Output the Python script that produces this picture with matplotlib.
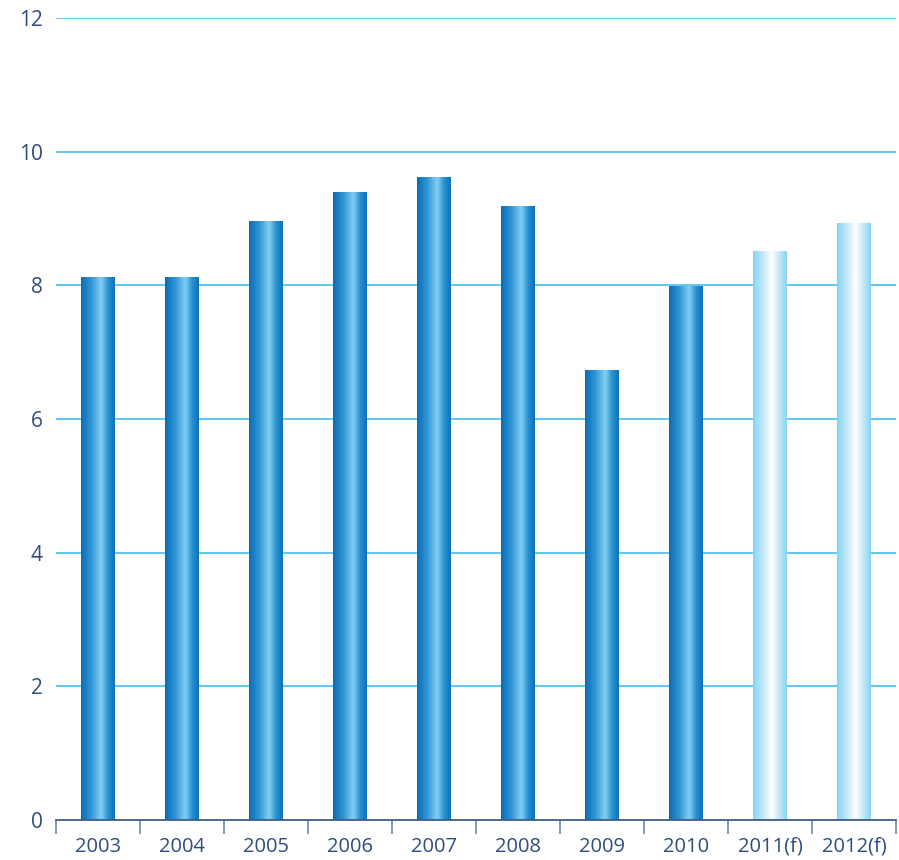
import numpy as np
import matplotlib
matplotlib.use("Agg")
import matplotlib.pyplot as plt
from matplotlib.colors import LinearSegmentedColormap

years = ["2003", "2004", "2005", "2006", "2007", "2008", "2009", "2010", "2011(f)", "2012(f)"]
values = [8.13, 8.13, 8.97, 9.39, 9.62, 9.18, 6.74, 7.99, 8.51, 8.93]
forecast = [False] * 8 + [True] * 2
yticks = [0, 2, 4, 6, 8, 10, 12]

plt.rcParams["font.family"] = ["Open Sans", "DejaVu Sans"]
text_c = "#2f4d7e"
grid_c = "#45bcec"

actual_cmap = LinearSegmentedColormap.from_list(
    "act", [(0, "#0a6cb6"), (0.3, "#2f95d4"), (0.6, "#82cff3"), (0.8, "#2a90d0"), (1, "#0a72bc")])
fcst_cmap = LinearSegmentedColormap.from_list(
    "fc", [(0, "#86d4f4"), (0.3, "#c4e9f9"), (0.55, "#ffffff"), (0.8, "#bfe6f8"), (1, "#86d4f4")])
grad = np.linspace(0, 1, 256).reshape(1, -1)

fig = plt.figure(figsize=(8.99, 8.6), dpi=100)
ax = fig.add_axes([56 / 899, 1 - 820 / 860, 840 / 899, (820 - 18) / 860])

x = np.arange(len(years))
bars = ax.bar(x, values, width=0.4, color="none", edgecolor="none", zorder=3)
for b, f in zip(bars, forecast):
    x0, w, h = b.get_x(), b.get_width(), b.get_height()
    im = ax.imshow(grad, extent=[x0, x0 + w, 0, h], aspect="auto",
                   cmap=fcst_cmap if f else actual_cmap, zorder=3)
    im.set_clip_path(b)

ax.set_xlim(-0.5, len(years) - 0.5)
ax.set_ylim(0, 12)
ax.set_yticks(yticks)
for v in yticks[1:]:
    ax.axhline(v, color=grid_c, lw=1.2, zorder=1)

ax.set_xticks(x)
ax.set_xticklabels(years)
ax.set_xticks(np.arange(len(years) + 1) - 0.5, minor=True)
ax.tick_params(axis="x", which="major", length=0, pad=12, labelsize=14.5, labelcolor=text_c)
ax.tick_params(axis="x", which="minor", length=10, width=1.2, color="#6f89b0", direction="out")
ax.tick_params(axis="y", length=0, pad=9.5, labelsize=15, labelcolor=text_c)

for s in ["top", "right", "left"]:
    ax.spines[s].set_visible(False)
ax.spines["bottom"].set_color("#3d5d8e")
ax.spines["bottom"].set_linewidth(1.3)
ax.spines["bottom"].set_zorder(4)

fig.savefig("out.png", dpi=100, facecolor="white")
